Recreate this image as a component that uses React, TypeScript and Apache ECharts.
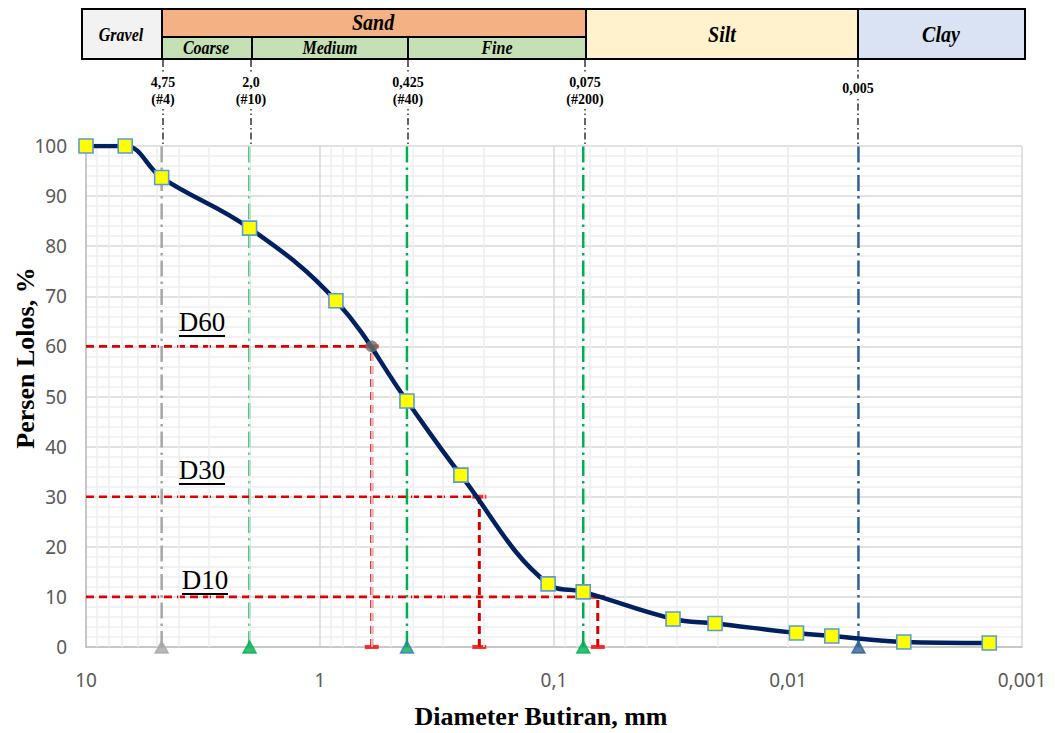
import React, { useEffect, useRef } from "react";
import * as echarts from "echarts";

// ---- data ----
const sieveSizes = [10, 6.8, 4.75, 2.0, 0.855, 0.425, 0.25, 0.106, 0.075, 0.031, 0.0205, 0.0092, 0.0065, 0.0032, 0.00138];
const percentPassing = [100, 100, 93.7, 83.6, 69.1, 49.1, 34.3, 12.6, 11.0, 5.6, 4.7, 2.8, 2.2, 1.0, 0.8];

const boundarySizes = [4.75, 2.0, 0.425, 0.075, 0.005];
const boundaryColors = ["#a6a6a6", "#00b050", "#00b050", "#00b050", "#2e6096"];
const triangleFill = ["#a6a6a6", "#00b050", "#00b050", "#00b050", "#2e6096"];
const triangleBorder = ["#a6a6a6", "#00b050", "#4472c4", "#00b050", "#2e6096"];

const dNames = ["D60", "D30", "D10"];
const dPercents = [60, 30, 10];
const dSizes = [0.601, 0.2085, 0.065];

const xTickFormat = (v: number) => String(Number(v.toPrecision(3))).replace(".", ",");

export default function App() {
  const ref = useRef<HTMLDivElement>(null);
  useEffect(() => {
    if (!ref.current) return;
    const chart = echarts.init(ref.current, undefined, { renderer: "svg" });

    const minorX: number[] = [];
    for (let e = -3; e <= 0; e++) {
      for (let m = 2; m <= 9; m++) minorX.push(Number((m * Math.pow(10, e)).toPrecision(3)));
    }

    const series: any[] = [];
    series.push({
      type: "line",
      data: [],
      z: -1,
      silent: true,
      markLine: {
        silent: true,
        symbol: ["none", "none"],
        label: { show: false },
        lineStyle: { color: "#eeeeee", width: 1.5, type: "solid" },
        data: minorX.map((v) => ({ xAxis: v })),
      },
    });

    boundarySizes.forEach((s, i) => {
      series.push({
        type: "line",
        data: [[s, 0], [s, 100]],
        symbol: "none",
        silent: true,
        z: 3,
        lineStyle: { color: boundaryColors[i], width: 2.5, type: [16, 5, 2.5, 5] },
      });
    });

    dSizes.forEach((s, i) => {
      series.push({
        type: "line",
        data: [[10, dPercents[i]], [s, dPercents[i]]],
        symbol: "none",
        silent: true,
        z: 4,
        lineStyle: { color: "#e00000", width: 2.6, type: [8, 5] },
      });
      series.push({
        type: "line",
        data: [[s, 0], [s, dPercents[i]]],
        symbol: "none",
        silent: true,
        z: 4,
        lineStyle: { color: "#d40000", width: 3, type: [8, 5] },
      });
    });

    series.push({
      type: "scatter",
      silent: true,
      z: 4,
      symbol: "rect",
      symbolSize: [14, 4],
      itemStyle: { color: "#ff0000" },
      data: dSizes.flatMap((s, i) => [[s, dPercents[i]], [s, 0]]),
    });

    series.push({
      type: "line",
      data: sieveSizes.map((s, i) => [s, percentPassing[i]]),
      smooth: 0.4,
      z: 5,
      symbol: "rect",
      symbolSize: 14,
      lineStyle: { color: "#002060", width: 4.5 },
      itemStyle: { color: "#ffff00", borderColor: "#5b9bd5", borderWidth: 1.6 },
    });

    series.push({
      type: "scatter",
      z: 7,
      symbol: "circle",
      symbolSize: 12,
      itemStyle: { color: "#6b6b6b" },
      data: [[dSizes[0], dPercents[0]]],
    });

    series.push({
      type: "scatter",
      z: 6,
      symbol: "triangle",
      symbolSize: [13, 12],
      data: boundarySizes.map((s, i) => ({
        value: [s, 0],
        itemStyle: { color: triangleFill[i], borderColor: triangleBorder[i], borderWidth: 1.5 },
      })),
    });

    const serif = "Liberation Serif";
    const headerBox = (x1: number, x2: number, y1: number, y2: number, fill: string) => ({
      type: "rect",
      shape: { x: x1, y: y1, width: x2 - x1, height: y2 - y1 },
      style: { fill, stroke: "#000", lineWidth: 2 },
      z: 10,
    });
    const headerText = (x: number, y: number, text: string, size: number) => ({
      type: "text",
      x,
      y,
      scaleY: 1.15,
      z: 11,
      style: { text, fill: "#000", font: `italic bold ${size}px "${serif}"`, align: "center", verticalAlign: "middle" },
    });

    const sieveLabels = [
      { x: 163, y: 91, t: "4,75\n(#4)" },
      { x: 251, y: 91, t: "2,0\n(#10)" },
      { x: 408, y: 91, t: "0,425\n(#40)" },
      { x: 585, y: 91, t: "0,075\n(#200)" },
      { x: 858, y: 88, t: "0,005" },
    ];

    const graphic: any[] = [
      headerBox(82, 162, 9, 59, "#f2f2f2"),
      headerBox(162, 586, 9, 37, "#f4b183"),
      headerBox(162, 252, 37, 59, "#c5e0b4"),
      headerBox(252, 408, 37, 59, "#c5e0b4"),
      headerBox(408, 586, 37, 59, "#c5e0b4"),
      headerBox(586, 858, 9, 59, "#fff2cc"),
      headerBox(858, 1025, 9, 59, "#dae3f3"),
      headerText(121, 35, "Gravel", 16),
      headerText(373, 23, "Sand", 20),
      headerText(206, 48, "Coarse", 16),
      headerText(330, 48, "Medium", 16),
      headerText(497, 48, "Fine", 16),
      headerText(722, 35, "Silt", 20),
      headerText(941, 35, "Clay", 20),
    ];
    sieveLabels.forEach((l) => {
      graphic.push({
        type: "line",
        z: 9,
        shape: { x1: l.x, y1: 60, x2: l.x, y2: 146 },
        style: { stroke: "#000", lineWidth: 1.2, lineDash: [7, 3, 1.5, 3] },
      });
      graphic.push({
        type: "text",
        x: l.x,
        y: l.y,
        z: 10,
        style: {
          text: l.t,
          fill: "#000",
          font: `bold 14px "${serif}"`,
          lineHeight: 17,
          align: "center",
          verticalAlign: "middle",
          backgroundColor: "#fff",
          padding: [1, 0],
        },
      });
    });

    const dPos = [
      { x: 202, y: 322, u: 336 },
      { x: 202, y: 470, u: 484 },
      { x: 205, y: 580, u: 594 },
    ];
    dNames.forEach((n, i) => {
      graphic.push({
        type: "text",
        x: dPos[i].x,
        y: dPos[i].y,
        z: 10,
        style: { text: n, fill: "#000", font: `27px "${serif}"`, align: "center", verticalAlign: "middle" },
      });
      graphic.push({
        type: "line",
        z: 10,
        shape: { x1: dPos[i].x - 23, y1: dPos[i].u, x2: dPos[i].x + 23, y2: dPos[i].u },
        style: { stroke: "#000", lineWidth: 1.8 },
      });
    });

    graphic.push({
      type: "text",
      x: 541,
      y: 716,
      z: 10,
      style: { text: "Diameter Butiran, mm", fill: "#000", font: `bold 26px "${serif}"`, align: "center", verticalAlign: "middle" },
    });
    graphic.push({
      type: "text",
      x: 25,
      y: 358,
      rotation: Math.PI / 2,
      z: 10,
      style: { text: "Persen Lolos, %", fill: "#000", font: `bold 26px "${serif}"`, align: "center", verticalAlign: "middle" },
    });

    chart.setOption({
      animation: false,
      backgroundColor: "#ffffff",
      grid: { left: 86, top: 146, width: 936, height: 501, containLabel: false },
      xAxis: {
        type: "log",
        logBase: 10,
        min: 0.001,
        max: 10,
        inverse: true,
        axisLine: { show: true, lineStyle: { color: "#bfbfbf", width: 1.5 } },
        axisTick: { show: false },
        axisLabel: { color: "#595959", fontSize: 19, fontFamily: "Noto Sans", margin: 23, formatter: xTickFormat },
        splitLine: { show: true, lineStyle: { color: "#d9d9d9", width: 1.5 } },
      },
      yAxis: {
        type: "value",
        min: 0,
        max: 100,
        interval: 10,
        axisLine: { show: true, lineStyle: { color: "#bfbfbf", width: 1.5 } },
        axisTick: { show: false },
        axisLabel: { color: "#595959", fontSize: 19, fontFamily: "Noto Sans", margin: 19 },
        splitLine: { show: true, lineStyle: { color: "#d9d9d9", width: 1.5 } },
        minorTick: { show: false, splitNumber: 5 },
        minorSplitLine: { show: true, lineStyle: { color: "#eeeeee", width: 1.5 } },
      },
      series,
      graphic,
    });
    return () => chart.dispose();
  }, []);
  return <div ref={ref} style={{ position: "fixed", left: 0, top: 0, width: 1055, height: 733 }} />;
}
